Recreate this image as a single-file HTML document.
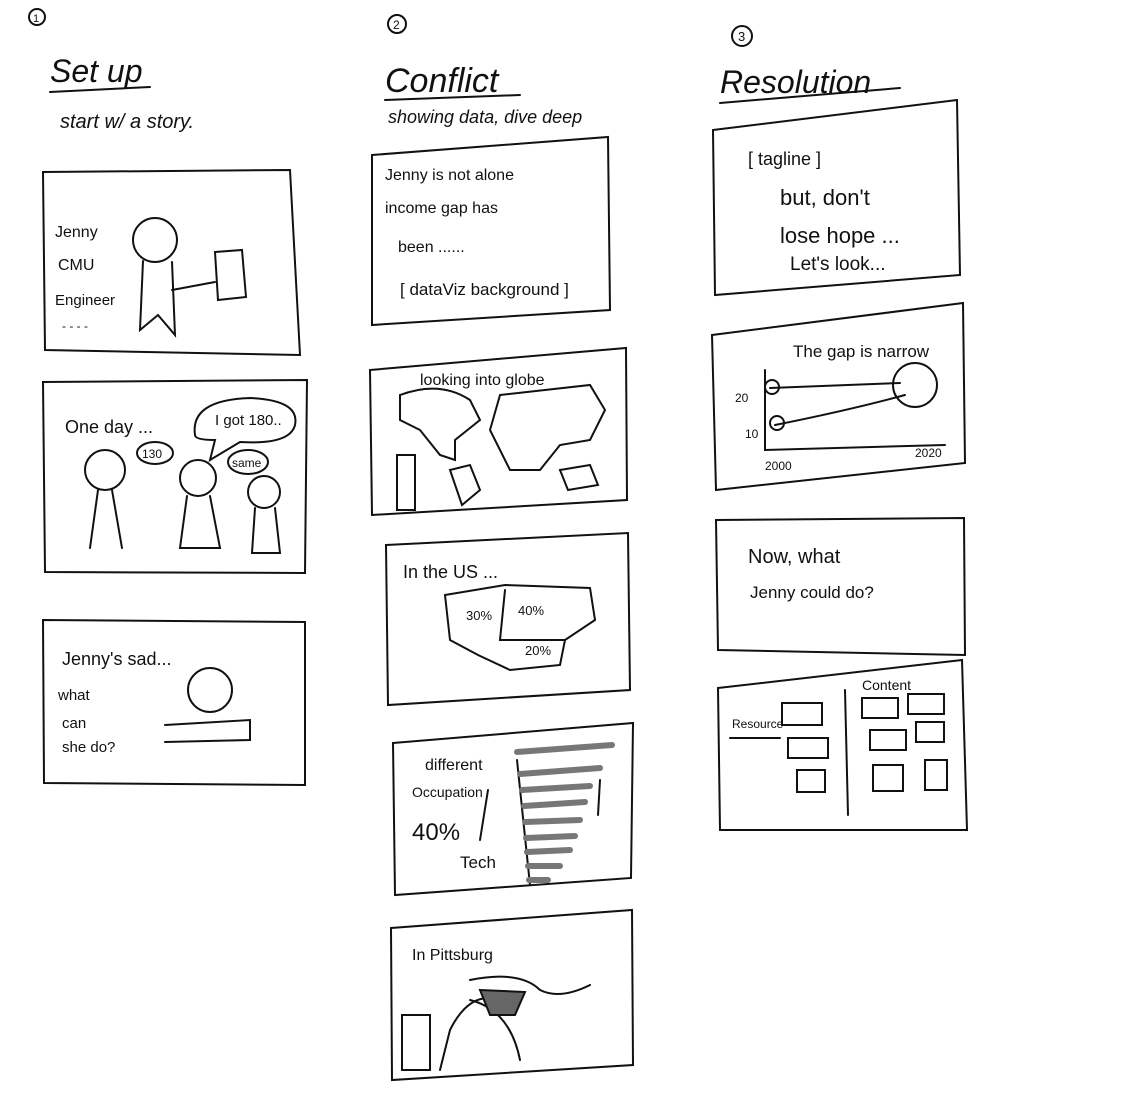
<!DOCTYPE html>
<html><head><meta charset="utf-8"><style>
html,body{margin:0;padding:0;background:#fff;}
svg{display:block}
text{font-family:"Liberation Sans",sans-serif;fill:#111;}
</style></head><body>
<svg width="1132" height="1116" viewBox="0 0 1132 1116" xmlns="http://www.w3.org/2000/svg">
<rect width="1132" height="1116" fill="#fff"/>
<g fill="none" stroke="#111" stroke-width="2" stroke-linecap="round">
<path d="M43 172 L290 170 L300 355 L45 350 Z"/>
<path d="M43 382 L307 380 L305 573 L45 572 Z"/>
<path d="M43 620 L305 622 L305 785 L44 783 Z"/>
<path d="M372 155 L608 137 L610 310 L372 325 Z"/>
<path d="M370 370 L626 348 L627 500 L372 515 Z"/>
<path d="M386 545 L628 533 L630 690 L388 705 Z"/>
<path d="M393 743 L633 723 L631 878 L395 895 Z"/>
<path d="M391 928 L632 910 L633 1065 L392 1080 Z"/>
<path d="M713 130 L957 100 L960 275 L715 295 Z"/>
<path d="M712 335 L963 303 L965 463 L716 490 Z"/>
<path d="M716 520 L964 518 L965 655 L718 650 Z"/>
<path d="M718 688 L962 660 L967 830 L720 830 Z"/>
<path d="M50 92 L150 87"/>
<path d="M385 100 L520 95"/>
<path d="M720 103 L900 88"/>
<circle cx="37" cy="17" r="8"/><circle cx="397" cy="24" r="9"/><circle cx="742" cy="36" r="10"/>
<circle cx="155" cy="240" r="22"/>
<path d="M143 261 L140 330 L158 315 L175 335 L172 262"/>
<path d="M172 290 L215 282"/>
<path d="M215 252 L242 250 L246 297 L218 300 Z"/>
<circle cx="105" cy="470" r="20"/><path d="M98 490 L90 548 M112 490 L122 548"/>
<circle cx="198" cy="478" r="18"/><path d="M187 496 L180 548 L220 548 L210 496"/>
<circle cx="264" cy="492" r="16"/><path d="M255 508 L252 553 L280 553 L275 508"/>
<path d="M195 435 Q190 400 250 398 Q300 400 295 425 Q290 445 240 442 L210 460 L215 440 Q195 440 195 435"/>
<ellipse cx="155" cy="453" rx="18" ry="11"/>
<ellipse cx="248" cy="462" rx="20" ry="12"/>
<circle cx="210" cy="690" r="22"/>
<path d="M165 725 L250 720 L250 740 L165 742"/>
<path d="M400 395 Q440 380 470 400 L480 420 L455 440 L455 460 L440 455 L420 430 L400 420 Z"/>
<path d="M450 470 L470 465 L480 490 L462 505 Z"/>
<path d="M500 395 L590 385 L605 410 L590 440 L560 445 L540 470 L510 470 L490 430 Z"/>
<path d="M560 470 L590 465 L598 485 L568 490 Z"/>
<path d="M397 455 L415 455 L415 510 L397 510 Z"/>
<path d="M445 595 L505 585 L590 588 L595 620 L565 640 L560 665 L510 670 L478 655 L450 640 Z"/>
<path d="M505 590 L500 640 L565 640"/>
<path d="M517 760 L530 885"/>
<path d="M517 752 L612 745 M520 774 L600 768 M522 790 L590 786 M524 806 L585 802 M525 822 L580 820 M526 838 L575 836 M527 852 L570 850 M528 866 L560 866 M529 880 L548 880" stroke-width="6" stroke="#777"/>
<path d="M488 790 L480 840 M600 780 L598 815"/>
<path d="M470 980 Q520 970 540 990 Q560 1000 590 985"/>
<path d="M470 1000 Q510 1010 520 1060 M440 1070 L450 1030 Q470 990 500 1000"/>
<path d="M480 990 L525 992 L515 1015 L490 1015 Z" fill="#666"/>
<path d="M402 1015 L430 1015 L430 1070 L402 1070 Z"/>
<path d="M765 370 L765 450 L945 445"/>
<path d="M770 388 L900 383 M775 425 Q850 410 905 395"/>
<circle cx="915" cy="385" r="22"/><circle cx="772" cy="387" r="7"/><circle cx="777" cy="423" r="7"/>
<path d="M845 690 L848 815"/>
<path d="M730 738 L780 738"/>
<rect x="782" y="703" width="40" height="22"/><rect x="788" y="738" width="40" height="20"/><rect x="797" y="770" width="28" height="22"/>
<rect x="862" y="698" width="36" height="20"/><rect x="908" y="694" width="36" height="20"/>
<rect x="870" y="730" width="36" height="20"/><rect x="916" y="722" width="28" height="20"/>
<rect x="873" y="765" width="30" height="26"/><rect x="925" y="760" width="22" height="30"/>
</g>
<text x="33" y="22" font-size="11">1</text><text x="393" y="29" font-size="12">2</text><text x="738" y="41" font-size="13">3</text>
<text x="50" y="82" font-size="32" font-style="italic">Set up</text>
<text x="60" y="128" font-size="20" font-style="italic">start w/ a story.</text>
<text x="385" y="92" font-size="34" font-style="italic">Conflict</text>
<text x="388" y="123" font-size="18" font-style="italic">showing data, dive deep</text>
<text x="720" y="93" font-size="32" font-style="italic">Resolution</text>
<text x="55" y="237" font-size="16">Jenny</text><text x="58" y="270" font-size="16">CMU</text><text x="55" y="305" font-size="15">Engineer</text>
<text x="62" y="330" font-size="12">- - - -</text>
<text x="65" y="433" font-size="18">One day ...</text><text x="215" y="425" font-size="15">I got 180..</text>
<text x="142" y="458" font-size="12">130</text><text x="232" y="467" font-size="12">same</text>
<text x="62" y="665" font-size="18">Jenny's sad...</text>
<text x="58" y="700" font-size="15">what</text><text x="62" y="728" font-size="15">can</text><text x="62" y="752" font-size="15">she do?</text>
<text x="385" y="180" font-size="16">Jenny is not alone</text>
<text x="385" y="213" font-size="16">income gap has</text>
<text x="398" y="252" font-size="16">been ......</text>
<text x="400" y="295" font-size="17">[ dataViz background ]</text>
<text x="420" y="385" font-size="16">looking into globe</text>
<text x="403" y="578" font-size="18">In the US ...</text>
<text x="466" y="620" font-size="13">30%</text><text x="518" y="615" font-size="13">40%</text><text x="525" y="655" font-size="13">20%</text>
<text x="425" y="770" font-size="16">different</text>
<text x="412" y="797" font-size="14">Occupation</text>
<text x="412" y="840" font-size="24">40%</text>
<text x="460" y="868" font-size="17">Tech</text>
<text x="412" y="960" font-size="16">In Pittsburg</text>
<text x="748" y="165" font-size="18">[ tagline ]</text>
<text x="780" y="205" font-size="22">but, don't</text>
<text x="780" y="243" font-size="22">lose hope ...</text>
<text x="790" y="270" font-size="19">Let's look...</text>
<text x="793" y="357" font-size="17">The gap is narrow</text>
<text x="735" y="402" font-size="12">20</text><text x="745" y="438" font-size="12">10</text>
<text x="765" y="470" font-size="12">2000</text><text x="915" y="457" font-size="12">2020</text>
<text x="748" y="563" font-size="20">Now, what</text>
<text x="750" y="598" font-size="17">Jenny could do?</text>
<text x="862" y="690" font-size="14">Content</text>
<text x="732" y="728" font-size="12">Resource</text>
</svg>
</body></html>
